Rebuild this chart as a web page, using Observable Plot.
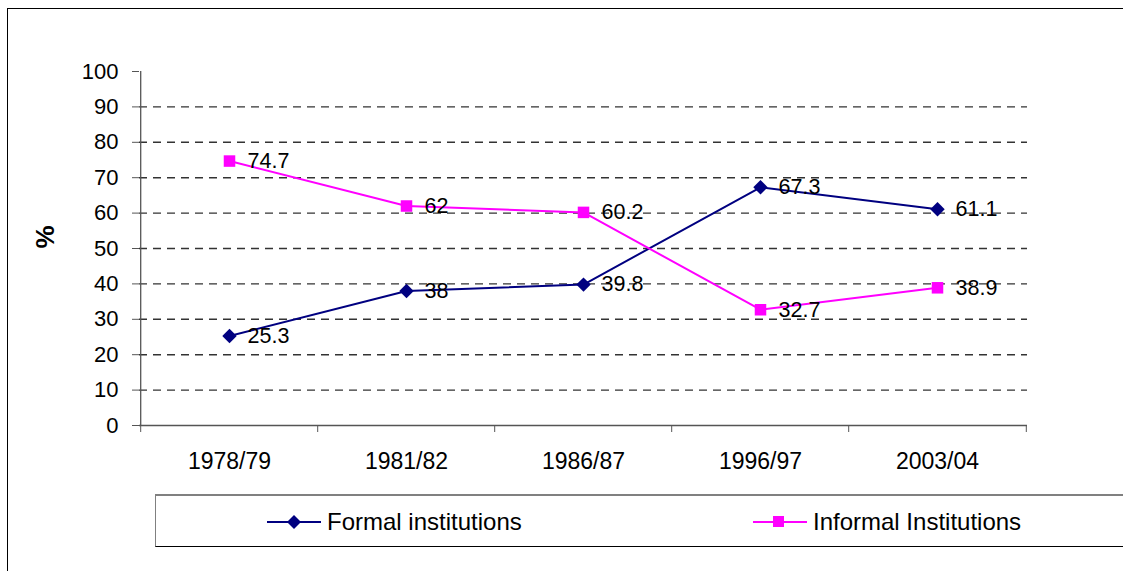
<!DOCTYPE html>
<html>
<head>
<meta charset="utf-8">
<script src="https://cdn.jsdelivr.net/npm/d3@7"></script>
<script src="https://cdn.jsdelivr.net/npm/@observablehq/plot@0.6"></script>
<style>
  html, body { margin: 0; padding: 0; background: #fff; overflow: hidden; }
  body { width: 1123px; height: 571px; position: relative; font-family: "Liberation Sans", Arial, sans-serif; }
  #frame { position: absolute; left: 7px; top: 8px; width: 1200px; height: 700px; border: 1px solid #000; box-sizing: border-box; }
  #chart { position: absolute; left: 0; top: 0; }
  #legend { position: absolute; left: 155px; top: 494px; width: 1100px; height: 53px; box-sizing: border-box;
            border-top: 2px solid #808080; border-left: 1px solid #808080; border-bottom: 1px solid #000; background: #fff; }
  .item { position: absolute; top: 0; height: 51px; display: flex; align-items: center; font-size: 24px; color: #000; }
  .item svg { margin-right: 6px; }
</style>
</head>
<body>
<div id="frame"></div>
<div id="chart"></div>
<div id="legend"></div>
<script>
const years = ["1978/79", "1981/82", "1986/87", "1996/97", "2003/04"];
const formal = [25.3, 38, 39.8, 67.3, 61.1];
const informal = [74.7, 62, 60.2, 32.7, 38.9];
const seriesNames = ["Formal institutions", "Informal Institutions"];
const yTicks = [0, 10, 20, 30, 40, 50, 60, 70, 80, 90, 100];
const gridValues = [10, 20, 30, 40, 50, 60, 70, 80, 90];

const colors = {"Formal institutions": "#000080", "Informal Institutions": "#FF00FF"};

const data = [];
years.forEach((y, i) => {
  data.push({year: y, value: formal[i], series: seriesNames[0]});
  data.push({year: y, value: informal[i], series: seriesNames[1]});
});
const fData = data.filter(d => d.series === seriesNames[0]);
const iData = data.filter(d => d.series === seriesNames[1]);

const W = 1123, H = 571, ml = 139, mr = 96, mt = 71, mb = 146;
const half = (W - ml - mr) / years.length / 2;
const axisColor = "#555";

const plot = Plot.plot({
  width: W, height: H,
  marginLeft: ml, marginRight: mr, marginTop: mt, marginBottom: mb,
  style: {fontFamily: "Liberation Sans, Arial, sans-serif", background: "transparent", overflow: "visible"},
  x: {type: "point", domain: years, padding: 0.5},
  y: {domain: [0, 100]},
  marks: [
    Plot.ruleY(gridValues, {stroke: "#333", strokeWidth: 1.4, strokeDasharray: "8,6"}),
    Plot.ruleY([0], {stroke: axisColor, strokeWidth: 1.3}),
    Plot.ruleX([years[0]], {y1: 0, y2: 100, dx: -half, stroke: axisColor, strokeWidth: 1.3}),
    Plot.axisY({ticks: yTicks, tickSize: 7, tickPadding: 14, fontSize: 22, stroke: axisColor, color: "#000", label: null, strokeOpacity: 1}),
    Plot.axisX({tickSize: 7, dx: -half, text: null, stroke: axisColor, label: null, strokeOpacity: 1}),
    Plot.axisX([years[years.length - 1]], {tickSize: 7, dx: half, text: null, stroke: axisColor, label: null, strokeOpacity: 1}),
    Plot.axisX({tickSize: 0, tickPadding: 27, fontSize: 23, color: "#000", label: null}),
    Plot.text(["%"], {frameAnchor: "left", dx: -94, rotate: -90, fontSize: 26, fontWeight: "bold", fill: "#000"}),
    Plot.line(fData, {x: "year", y: "value", stroke: colors[seriesNames[0]], strokeWidth: 2}),
    Plot.line(iData, {x: "year", y: "value", stroke: colors[seriesNames[1]], strokeWidth: 2}),
    Plot.dot(fData, {x: "year", y: "value", symbol: "diamond2", r: 6.5, fill: colors[seriesNames[0]], stroke: "none"}),
    Plot.dot(iData, {x: "year", y: "value", symbol: "square", r: 6.5, fill: colors[seriesNames[1]], stroke: "none"}),
    Plot.text(data, {x: "year", y: "value", text: d => String(d.value), textAnchor: "start", dx: 18, fontSize: 21.5, fill: "#000"})
  ]
});
document.getElementById("chart").appendChild(plot);

// Legend
const legend = document.getElementById("legend");
const items = [
  {name: seriesNames[0], left: 111, symbol: "diamond"},
  {name: seriesNames[1], left: 597, symbol: "square"}
];
items.forEach(it => {
  const div = document.createElement("div");
  div.className = "item";
  div.style.left = it.left + "px";
  const c = colors[it.name];
  const sym = it.symbol === "diamond"
    ? `<path d="M27,20 L34,27 L27,34 L20,27 Z" fill="${c}"/>`
    : `<rect x="20" y="21" width="11" height="11" fill="${c}"/>`;
  div.innerHTML = `<svg width="54" height="54" viewBox="0 0 54 54"><line x1="0" y1="27" x2="54" y2="27" stroke="${c}" stroke-width="2"/>${sym}</svg><span>${it.name}</span>`;
  legend.appendChild(div);
});
</script>
</body>
</html>
